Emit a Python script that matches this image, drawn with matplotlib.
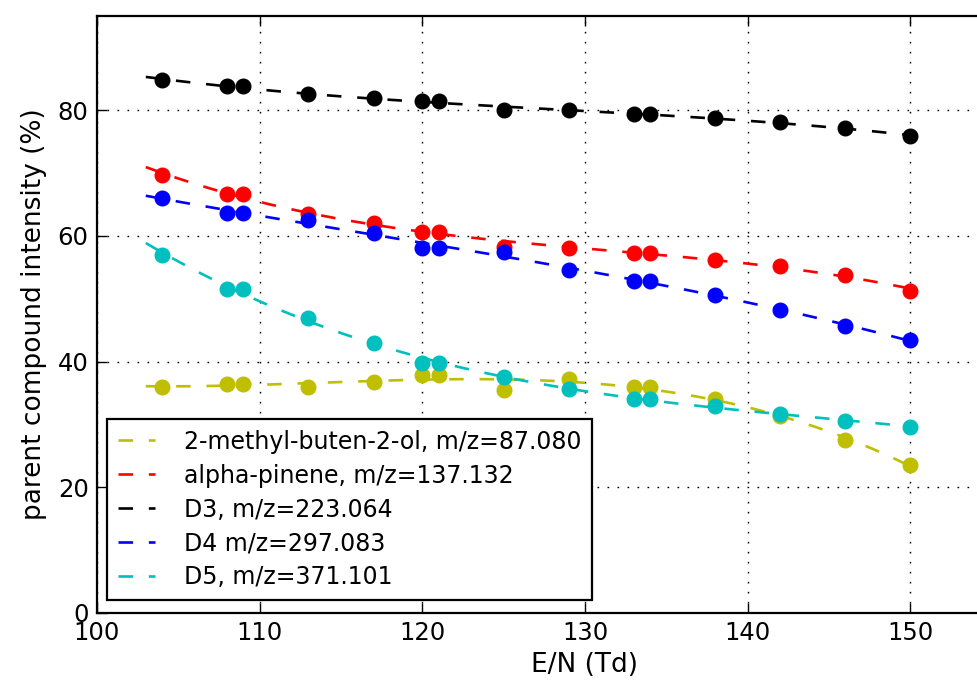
import numpy as np
import matplotlib
matplotlib.use('Agg')
import matplotlib.pyplot as plt

# E/N values (Td) and parent compound intensity (%)
en = [104, 108, 109, 113, 117, 120, 121, 125, 129, 133, 134, 138, 142, 146, 150]

mbo = [35.9, 36.5, 36.5, 35.9, 36.7, 37.9, 37.9, 35.5, 37.3, 35.9, 35.9, 34.0, 31.3, 27.6, 23.5]
pinene = [69.7, 66.7, 66.7, 63.5, 62.0, 60.7, 60.7, 58.3, 58.1, 57.3, 57.3, 56.2, 55.2, 53.8, 51.3]
d3 = [84.8, 83.8, 83.8, 82.6, 81.9, 81.4, 81.4, 80.0, 80.0, 79.4, 79.4, 78.7, 78.2, 77.1, 75.9]
d4 = [66.0, 63.7, 63.7, 62.5, 60.5, 58.1, 58.1, 57.5, 54.6, 52.9, 52.9, 50.6, 48.2, 45.7, 43.4]
d5 = [57.0, 51.6, 51.6, 47.0, 42.9, 39.8, 39.8, 37.5, 35.7, 34.1, 34.1, 32.9, 31.7, 30.6, 29.6]

labels = ['2-methyl-buten-2-ol, m/z=87.080', 'alpha-pinene, m/z=137.132',
          'D3, m/z=223.064', 'D4 m/z=297.083', 'D5, m/z=371.101']
colors = [(0.75, 0.75, 0), 'r', 'k', 'b', (0, 0.75, 0.75)]
series = [mbo, pinene, d3, d4, d5]

fig = plt.figure(figsize=(9.78, 6.87), dpi=100)
ax = fig.add_axes([97/978, 74/687, 976/978, 597/687])

x = np.array(en, dtype=float)
xfit = np.linspace(103, 150, 200)
for y, c, lab in zip(series, colors, labels):
    p = np.polyfit(x, y, 3)  # fit curve through the measured points
    ln, = ax.plot(xfit, np.polyval(p, xfit), color=c, lw=1.9, label=lab)
    ln.set_dashes((5.5, 6))
    ax.plot(x, y, 'o', color=c, ms=10.5, mec=c, zorder=3)

ax.set_xlim(100, 160)
ax.set_ylim(0, 95)
ax.set_xticks([100, 110, 120, 130, 140, 150])
ax.set_yticks([0, 20, 40, 60, 80])
ax.grid(True, color='k', linestyle=(0, (1.2, 6)), lw=1.0)
ax.tick_params(direction='in', length=7, width=1, labelsize=17.5, pad=6,
               top=True, right=True)
for s in ax.spines.values():
    s.set_linewidth(1.6)

ax.set_xlabel('E/N (Td)', fontsize=19, labelpad=5)
ax.set_ylabel('parent compound intensity (%)', fontsize=19, labelpad=8)

leg = ax.legend(loc='lower left', bbox_to_anchor=(10/976, 13/597), borderaxespad=0,
                fontsize=17, fancybox=False, framealpha=1, edgecolor='k',
                handlelength=1.6, handletextpad=1.2, borderpad=0.45, labelspacing=0.42)
leg.get_frame().set_linewidth(1.6)

fig.savefig('out.png', dpi=100)
